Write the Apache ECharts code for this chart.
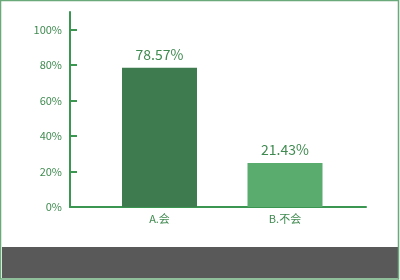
<!DOCTYPE html>
<html><head><meta charset="utf-8">
<script src="https://cdn.jsdelivr.net/npm/echarts@6/dist/echarts.min.js"></script>
<style>html,body{margin:0;padding:0;background:#fff}#c{width:400px;height:280px}</style>
</head><body><div id="c"></div>
<script>
const categories = ['A.会', 'B.不会'];
const values = [78.57, 21.43];
const barColors = ['#3e7b4e', '#5aab6e'];
const yTickValues = [0, 20, 40, 60, 80, 100];

const font = '"Noto Sans CJK SC", "Noto Sans", sans-serif';
const green = '#3a9650';
const textGreen = '#3f8a50';

const chart = echarts.init(document.getElementById('c'), null, {renderer: 'canvas'});
chart.setOption({
  animation: false,
  grid: [
    {left: 70, right: 34, top: 12, bottom: 73},
    {left: 96.75, right: 52.25, top: 12, bottom: 73}
  ],
  xAxis: [
    {gridIndex: 0, type: 'value', min: 0, max: 1,
     axisLine: {show: true, lineStyle: {color: green, width: 2}},
     axisTick: {show: false}, axisLabel: {show: false}, splitLine: {show: false}},
    {gridIndex: 1, type: 'category', data: categories,
     axisLine: {show: false}, axisTick: {show: false},
     axisLabel: {color: textGreen, fontSize: 11, fontFamily: font, margin: 6}}
  ],
  yAxis: [
    {gridIndex: 0, type: 'value', min: 0, max: 110, interval: 20,
     axisLine: {show: true, lineStyle: {color: green, width: 2}},
     axisTick: {show: true, inside: true, length: 7, lineStyle: {color: green, width: 2},
                customValues: yTickValues.slice(1)},
     axisLabel: {color: textGreen, fontSize: 11, fontFamily: font, margin: 8,
                 customValues: yTickValues, formatter: '{value}%'},
     splitLine: {show: false}},
    {gridIndex: 1, type: 'value', min: 0, max: 110, show: false}
  ],
  series: [{
    type: 'bar', xAxisIndex: 1, yAxisIndex: 1,
    data: values.map((v, i) => ({value: v, itemStyle: {color: barColors[i]}})),
    barWidth: 75, barMinHeight: 44,
    label: {show: true, position: 'top', distance: 6, color: textGreen, fontSize: 14,
            fontFamily: font, formatter: p => p.value.toFixed(2) + '%'}
  }],
  graphic: [
    {type: 'rect', shape: {x: 2, y: 247, width: 396, height: 31}, style: {fill: '#595959'}, z: 10},
    {type: 'rect', shape: {x: 0.5, y: 0.5, width: 398, height: 278.5},
     style: {fill: null, stroke: '#6aaa7a', lineWidth: 1.5}, z: 11}
  ]
});
</script></body></html>
